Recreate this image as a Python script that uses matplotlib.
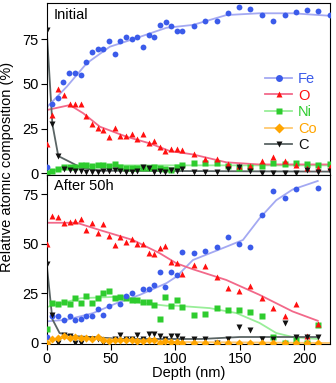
import numpy as np
import matplotlib.pyplot as plt
from matplotlib.lines import Line2D

# ---- datos: panel superior (Initial) ----
fe1_x = [0, 4.4, 9, 12.9, 17.5, 22.2, 26.4, 30.7, 35.1, 39.5, 43.9, 48.3, 52.9, 57.1, 61.5, 65.9,
         70.2, 74.9, 79.1, 83.4, 88, 92.5, 96.9, 101.2, 105.4, 114.4, 123.2, 132, 140.8, 149.3,
         158.1, 167.1, 175.9, 184.7, 193.5, 202.3, 211.1, 219.9]
fe1_y = [3.7, 38.6, 42.3, 50.9, 56.3, 56.3, 55, 62.4, 67.7, 69.5, 69.5, 74, 66.7, 74, 76, 75.1,
         76, 70.8, 77.3, 76.4, 82.9, 84.8, 82.6, 79.8, 79.8, 82.4, 85.2, 85.3, 89.8, 92.8,
         91.9, 88.7, 85.3, 88.4, 90, 91.2, 90.8, 88.4]
fe1_fx = [0, 15.5, 31, 49, 67, 93, 113.7, 139.5, 165, 191, 220]
fe1_fy = [36.9, 48.4, 61.5, 70.8, 75, 81.4, 83, 88.5, 89.5, 89.5, 88.1]

x1 = [0, 4.4, 9, 13.4, 17.8, 22.2, 26.4, 30.5, 35.1, 39.5, 43.9, 48.3, 52.9, 57.1, 61.5, 65.9,
      70.2, 74.9, 79.1, 83.4, 87.8, 92.2, 96.9, 101.2, 105.4, 114.4, 123.2, 132, 140.8, 149.3,
      158.1, 167.1, 175.9, 184.7, 193.5, 202.3, 211.1, 219.9]
o1_y = [16.2, 32.6, 47, 43.8, 38.8, 38.6, 38.6, 32, 27.4, 25.2, 24.3, 20.1, 25.5, 20.9, 20.9, 22,
        19.4, 22, 16.8, 18.1, 14.5, 12.6, 13.6, 13.6, 12.9, 10.8, 7.8, 7.8, 5.2, 4.1,
        4.1, 6.7, 9.3, 6.7, 4.6, 2.8, 2.8, 3.5]
o1_fx = [0, 18, 28.4, 41.3, 62, 80, 95.6, 113.6, 139.5, 165, 191, 220]
o1_fy = [35.4, 38.2, 33.6, 26.1, 20.5, 16.8, 12.5, 10.6, 6.2, 5, 5, 5]
ni1_y = [0, 1.5, 2.4, 3.7, 3.3, 3.7, 4.8, 4.8, 4.4, 4.6, 4.8, 4.1, 5.4, 3.7, 2.9, 2.8,
         2.8, 3.1, 3.1, 3.7, 2.8, 2.2, 2, 3.5, 4.8, 5.6, 5.6, 5.6, 4.1, 2.8,
         3.7, 4, 5.6, 5.2, 5.6, 5.2, 4.8, 5]
ni1_fx = [0, 20, 40, 100, 220]
ni1_fy = [1, 3.5, 4.5, 4.5, 4.5]
c1_y = [80.1, 27.6, 9.7, 2.4, 1.9, 1.5, 1.5, 1, 1, 1, 1.2, 1.5, 1.9, 1.2, 1, 1,
        1.5, 3.3, 2.8, 1, 1.5, 1, 1.9, 1.5, 2.6, 1, 1, 1, 2.6, 3.3,
        1.5, 0, 0, 0, 0, 1.9, 1, 1.5]
c1_fx = [0, 4.4, 9, 26, 40, 220]
c1_fy = [80, 27.6, 9.7, 3.5, 1.5, 1]

# ---- datos: panel inferior (After 50h) ----
x2 = [0, 4.4, 9, 13.4, 17.8, 22.2, 26.4, 30.7, 35.1, 39.5, 43.9, 48.3, 52.9, 57.1, 61.5, 65.9,
      70.2, 74.9, 79.1, 83.4, 87.8, 92.2, 96.6, 101, 105.4, 114.4, 123.2, 132, 140.8, 149.3,
      158.1, 167.1, 175.9, 184.7, 193.5, 202.3, 211.1]
o2_y = [50, 64.2, 63.7, 60.4, 60.9, 61.7, 62.4, 57, 60.7, 55.3, 59.9, 54, 49.4, 53.3, 50.8, 52.5,
        50, 50, 45.3, 44.8, 47.8, 49, 41, 40.2, 34.7, 39.4, 39, 33.5, 27.7, 26,
        28.8, 22.6, 17.9, 13.7, 19.8, 3.3, 9.5]
o2_fx = [0, 23.3, 41.3, 66.9, 87.8, 100.8, 113.6, 139.5, 165.3, 191, 210.5]
o2_fy = [60.7, 60.7, 57, 52, 45.3, 40.2, 37.2, 31.8, 24.3, 15.9, 11.2]
fe2_x = [0, 4.4, 9, 13.4, 17.8, 22.2, 26.4, 30.7, 35.1, 39.5, 43.9, 48.3, 57.1, 61.5, 65.9,
         74.9, 79.1, 83.4, 87.8, 92.2, 96.6, 101, 105.4, 114.4, 123.2, 132, 140.8, 149.3,
         158.1, 167.1, 175.9, 184.7, 193.5, 211.1]
fe2_y = [3, 13.4, 13.4, 11.7, 13.4, 11.7, 12.2, 13.4, 13.4, 17.3, 13.9, 18.8, 19.6, 23.8, 25.1,
         27.3, 27.3, 29.3, 36, 28.2, 36, 34.4, 46.1, 45.3, 46.6, 48.3, 53.6, 49.8,
         48.3, 64.5, 76.6, 73.2, 77.5, 78.5]
fe2_fx = [0, 15.5, 36.2, 54.3, 72.4, 93, 100.8, 113.6, 139.5, 152.4, 165.3, 178.3, 191, 210.5]
fe2_fy = [10.9, 11.7, 15.1, 20.1, 24.3, 30.2, 33.5, 41.9, 48.6, 52, 62.9, 72.1, 77.5, 81.8]
ni2_y = [7.2, 20.4, 19.9, 20.6, 19.6, 22.6, 20.4, 23.8, 20.4, 22.6, 25.1, 26.3, 22.6, 23, 22.6, 21.8,
         21.8, 20.9, 20.6, 19.3, 12.2, 23.1, 18.8, 21.8, 18.1, 14.1, 14.6, 17.6, 16.8, 16.8,
         15.4, 13.7, 3, 0, 1.3, 0, 8.9]
ni2_fx = [0, 26.4, 54, 74.9, 93, 100.8, 126.6, 147.3, 165.3, 178.3, 191, 210.5]
ni2_fy = [18.1, 22.6, 23.3, 20.1, 18.8, 18.8, 17.6, 15.1, 10.1, 5, 3, 2]
co2_y = [0, 2, 2.5, 3.4, 2.5, 2.8, 2.5, 2.5, 2.2, 2.8, 1.7, 0.8, 1.7, 1.7, 1.3, 1.7,
         0.8, 0.8, 1.3, 1.3, 0, 0.8, 0.3, 0.3, 0.2, 0, 0, 0, 0, 0,
         0, 0, 0, 0, 0, 0, 0]
co2_fx = [0, 10, 40, 100, 220]
co2_fy = [0, 2.5, 2, 0.5, 0]
c2_y = [39.7, 14.2, 0, 4.1, 3.4, 0, 0, 2, 2, 2, 0, 0, 2, 4.1, 2, 2,
        4.1, 2, 4.6, 4.6, 3.4, 2, 3.7, 3.4, 2, 2, 2, 0, 2, 7.9,
        6.3, 2, 2, 10.1, 3, 3, 3]
c2_fx = [0, 4.4, 10, 20, 60, 120, 150, 200, 211]
c2_fy = [39.7, 12, 5, 3.5, 2, 2, 3, 3, 3]

colores = {'Fe': ('#3b5bea', '#a4a9f2', 'o'),
           'O': ('#ff1010', '#f2698a', '^'),
           'Ni': ('#2ecc2e', '#99ee99', 's'),
           'Co': ('#ffa500', '#ffc970', 'D'),
           'C': ('#111111', '#5a6464', 'v')}

plt.rcParams['font.family'] = 'Liberation Sans'
plt.rcParams['font.size'] = 10.5

fig = plt.figure(figsize=(3.36, 3.83), dpi=100)
ax1 = fig.add_axes([0.139, 0.544, 0.843, 0.447])
ax2 = fig.add_axes([0.139, 0.102, 0.843, 0.442])

def serie(ax, nombre, x, y, fx, fy, ms=4.2):
    c, cl, m = colores[nombre]
    ax.plot(fx, fy, '-', color=cl, lw=1.3, zorder=2)
    ax.plot(x, y, m, color=c, ms=ms, mec='none', zorder=3)

serie(ax1, 'Ni', x1, ni1_y, ni1_fx, ni1_fy, ms=3.8)
serie(ax1, 'O', x1, o1_y, o1_fx, o1_fy)
serie(ax1, 'C', x1, c1_y, c1_fx, c1_fy)
serie(ax1, 'Fe', fe1_x, fe1_y, fe1_fx, fe1_fy)

serie(ax2, 'Ni', x2, ni2_y, ni2_fx, ni2_fy, ms=3.8)
serie(ax2, 'Fe', fe2_x, fe2_y, fe2_fx, fe2_fy)
serie(ax2, 'O', x2, o2_y, o2_fx, o2_fy)
serie(ax2, 'C', x2, c2_y, c2_fx, c2_fy)
serie(ax2, 'Co', x2, co2_y, co2_fx, co2_fy, ms=3.8)

ax1.set_ylim(-0.7, 95)
ax2.set_ylim(-0.5, 85)
for ax in (ax1, ax2):
    ax.set_xlim(0, 220)
    ax.set_xticks([0, 50, 100, 150, 200])
    ax.set_yticks([0, 25, 50, 75])
    ax.tick_params(direction='out', length=4, width=0.8, pad=2)
ax1.tick_params(labelbottom=False)
ax2.set_xlabel('Depth (nm)', labelpad=0)

ax1.text(0.025, 0.975, 'Initial', transform=ax1.transAxes, va='top', ha='left')
ax2.text(0.025, 0.975, 'After 50h', transform=ax2.transAxes, va='top', ha='left')
fig.text(0.022, 0.565, 'Relative atomic composition (%)', rotation=90, va='center', ha='center')

handles = []
nombres = ['Fe', 'O', 'Ni', 'Co', 'C']
for n in nombres:
    c, cl, m = colores[n]
    handles.append(Line2D([], [], color=cl, lw=1.3, marker=m, mfc=c, mec='none', ms=5))
leg = ax1.legend(handles, nombres, loc='center right', bbox_to_anchor=(1.0, 0.365),
                 frameon=False, handlelength=1.9, handletextpad=0.4, labelspacing=0.18,
                 fontsize=10.5)
for t, n in zip(leg.get_texts(), nombres):
    t.set_color(colores[n][0])

fig.savefig('out.png', dpi=100)
